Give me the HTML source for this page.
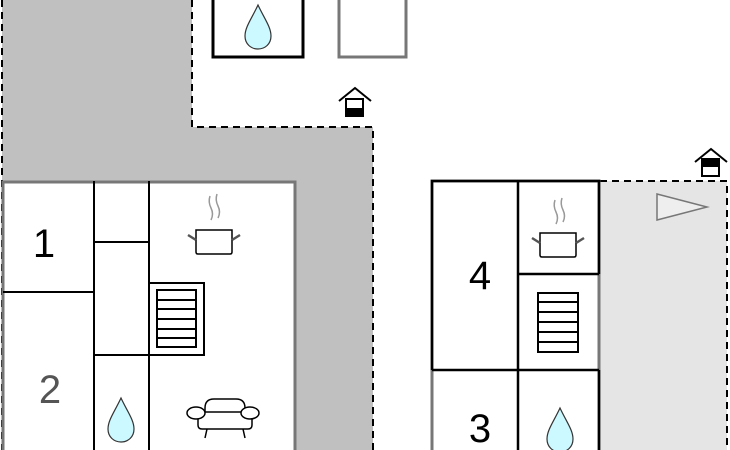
<!DOCTYPE html>
<html><head><style>html,body{margin:0;padding:0;background:#fff}svg{display:block}</style></head>
<body>
<svg width="730" height="450" viewBox="0 0 730 450" xmlns="http://www.w3.org/2000/svg" font-family="Liberation Sans, sans-serif">
<!-- left gray area -->
<path d="M2 0 H192 V127 H373 V450 H2 Z" fill="#c0c0c0"/>
<path d="M2 0 V450 M192 0 V127 H373 V450" fill="none" stroke="#000" stroke-width="2" stroke-dasharray="7,5"/>
<!-- right light area -->
<rect x="600" y="181" width="127" height="269" fill="#e5e5e5"/>
<path d="M600 181 H727 V450" fill="none" stroke="#000" stroke-width="2" stroke-dasharray="7,5"/>
<!-- top boxes -->
<rect x="213" y="-5" width="90" height="62" fill="#fff" stroke="#000" stroke-width="3"/>
<rect x="339" y="-5" width="67" height="62" fill="#fff" stroke="#777" stroke-width="3"/>
<!-- house icons -->
<g stroke="#000" stroke-width="2" fill="none">
<path d="M339 101 L355 88 L371 101"/><rect x="346" y="99" width="17" height="17" fill="#fff"/>
<path d="M695 162 L711 149 L727 162"/><rect x="702" y="159" width="17" height="17" fill="#fff"/>
</g>
<rect x="346" y="108" width="17" height="8" fill="#000"/>
<rect x="702" y="159" width="17" height="8" fill="#000"/>
<!-- left house -->
<rect x="3" y="182" width="292" height="272" fill="#fff" stroke="#777" stroke-width="3"/>
<g stroke="#000" stroke-width="2" fill="none">
<path d="M94 181 V450 M149 181 V450 M94 242 H149 M94 355 H204 M3 292 H94"/>
<rect x="149" y="283" width="55" height="72"/>
<rect x="157" y="290" width="39" height="57"/>
<path d="M157 300 H196 M157 309 H196 M157 319 H196 M157 329 H196 M157 338 H196"/>
</g>
<text x="44" y="257" font-size="40" text-anchor="middle">1</text>
<text x="50" y="403" font-size="40" text-anchor="middle" fill="#555">2</text>
<!-- pot left -->
<path d="M196 230 H232 V252 Q232 254 230 254 H198 Q196 254 196 252 Z" stroke="#000" stroke-width="1.5" fill="#fff"/>
<path d="M188 235 L196 240 M240 235 L232 240" stroke="#555" stroke-width="2.5"/>
<path d="M210 196 Q208 202 211 208 Q214 214 211 220 M217 194 Q215 200 218 206 Q221 212 218 218" stroke="#999" stroke-width="1.5" fill="none"/>
<!-- armchair -->
<g stroke="#000" stroke-width="1.5" fill="#fff">
<path d="M205 416 V408 Q205 399 214 399 H236 Q245 399 245 408 V416"/>
<path d="M198 412 H252 V425 Q252 429 248 429 H202 Q198 429 198 425 Z"/>
<ellipse cx="196" cy="413" rx="9" ry="6"/>
<ellipse cx="250" cy="413" rx="9" ry="6"/>
<path d="M207 429 L205 438 M243 429 L245 438" fill="none"/>
</g>
<!-- right house -->
<rect x="432" y="181" width="167" height="280" fill="#fff" stroke="#777" stroke-width="3"/>
<g stroke="#000" stroke-width="2.5" fill="none">
<path d="M432 370 V181 H599 V274"/>
<path d="M518 181 V450 M432 370 H599 M599 370 V450 M518 274 H599"/>
</g>
<g stroke="#000" stroke-width="2" fill="none">
<rect x="538" y="293" width="40" height="59"/>
<path d="M538 302 H578 M538 312 H578 M538 322 H578 M538 332 H578 M538 342 H578"/>
</g>
<text x="480" y="289" font-size="40" text-anchor="middle">4</text>
<text x="480" y="442" font-size="40" text-anchor="middle">3</text>
<!-- pot right -->
<path d="M540 233 H576 V255 Q576 257 574 257 H542 Q540 257 540 255 Z" stroke="#000" stroke-width="1.5" fill="#fff"/>
<path d="M532 238 L540 243 M584 238 L576 243" stroke="#555" stroke-width="2.5"/>
<path d="M555 200 Q553 206 556 212 Q559 218 556 224 M562 198 Q560 204 563 210 Q566 216 563 222" stroke="#999" stroke-width="1.5" fill="none"/>
<!-- triangle -->
<path d="M657 194 L707 207 L657 220 Z" fill="#eee" stroke="#777" stroke-width="1.5"/>
<!-- drops -->
<g fill="#ccf8ff" stroke="#333" stroke-width="1.2">
<path d="M258 5 C252 18 245 27 245 36 C245 44 251 49 258 49 C265 49 271 44 271 36 C271 27 264 18 258 5 Z"/>
<path d="M121 398 C115 411 108 420 108 429 C108 437 114 442 121 442 C128 442 134 437 134 429 C134 420 127 411 121 398 Z"/>
<path d="M560 408 C554 421 547 430 547 439 C547 447 553 452 560 452 C567 452 573 447 573 439 C573 430 566 421 560 408 Z"/>
</g>
</svg>
</body></html>
